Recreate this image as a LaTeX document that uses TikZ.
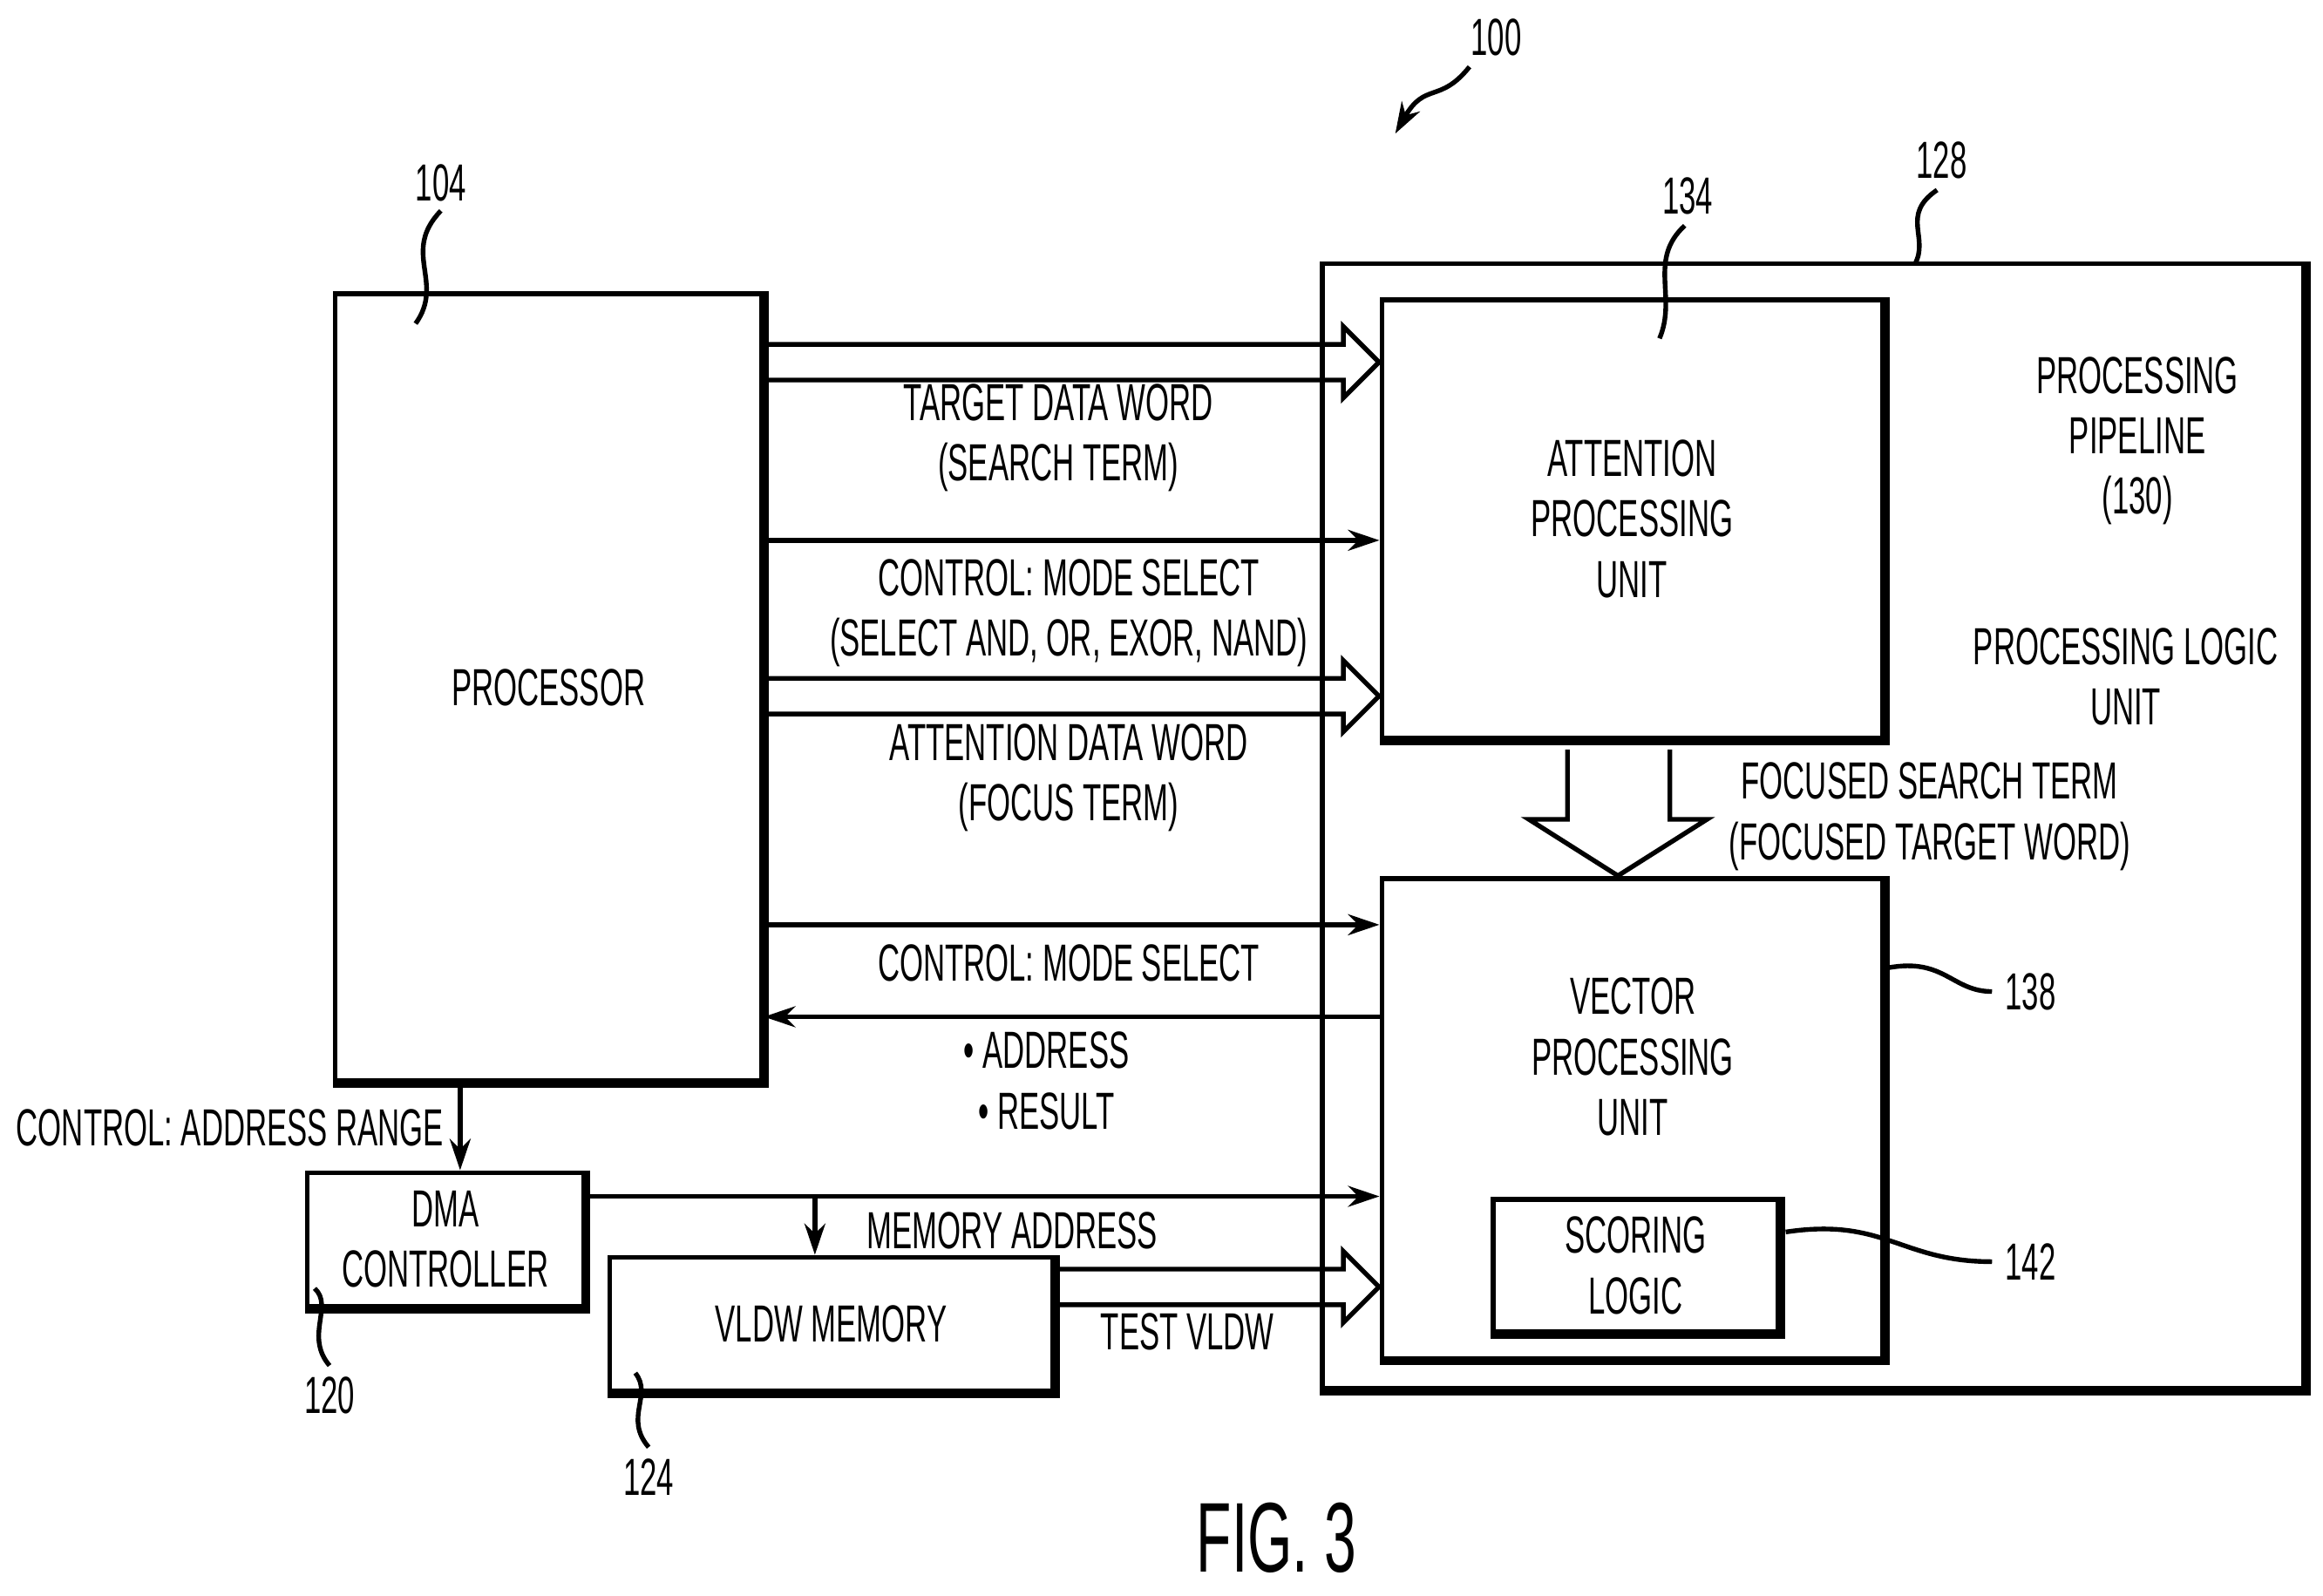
\documentclass[tikz,border=0pt]{standalone}
\usepackage{fontspec}
\setmainfont[FakeStretch=0.58]{Liberation Sans}
\usetikzlibrary{arrows.meta}
\begin{document}
\begin{tikzpicture}
  [x=0.01cm,y=-0.01cm,line width=0.9pt,>={Stealth[length=6pt,width=4pt]},
   every node/.style={font=\fontsize{10}{11.6}\selectfont,align=center},
   blk/.style={draw,rectangle,inner sep=0pt},
   shade/.style={line width=1.8pt}]
  \useasboundingbox (0,0) rectangle (1565,1075);

  % blocks
  \node[blk,minimum width=287mm/10,minimum height=530mm/10] (proc) at (369.5,463) {PROCESSOR};
  \node[blk,minimum width=661mm/10,minimum height=757mm/10] (pipe) at (1221.5,556.5) {};
  \node[blk,minimum width=337mm/10,minimum height=295mm/10] (att) at (1099.5,349.5) {ATTENTION\\PROCESSING\\UNIT};
  \node[blk,minimum width=337mm/10,minimum height=323mm/10] (vec) at (1099.5,753.5) {};
  \node (vectxt) at (1100,712) {VECTOR\\PROCESSING\\UNIT};
  \node[blk,minimum width=192mm/10,minimum height=89mm/10] (score) at (1102,852.5) {SCORING\\LOGIC};
  \node[blk,minimum width=186mm/10,minimum height=90mm/10] (dma) at (300,835) {DMA\\CONTROLLER};
  \node[blk,minimum width=298mm/10,minimum height=90mm/10] (vldw) at (560,892) {VLDW MEMORY};
  \foreach \b in {proc,pipe,att,vec,score,dma,vldw}
    \draw[shade] (\b.north east) -- (\b.south east) -- (\b.south west);

  \node (pp) at (1440,297) {PROCESSING\\PIPELINE\\(130)};
  \node (plu) at (1432,456) {PROCESSING LOGIC\\UNIT};

  % hollow arrows
  \draw (517,232) -- (905,232) -- (905,220) -- (929,244) -- (905,268) -- (905,256) -- (517,256);
  \draw (517,457) -- (905,457) -- (905,445) -- (929,469) -- (905,493) -- (905,481) -- (517,481);
  \draw (713,855) -- (905,855) -- (905,843) -- (929,867) -- (905,891) -- (905,879) -- (713,879);
  \draw (1125,505) -- (1125,552) -- (1150,552) -- (1090,590) -- (1030,552) -- (1056,552) -- (1056,505);

  % thin connectors
  \coordinate (c1) at (0,364);
  \coordinate (c2) at (0,623);
  \coordinate (c3) at (0,685);
  \coordinate (c4) at (0,806);
  \coordinate (c5) at (310,0);
  \coordinate (c6) at (549,0);
  \draw[->] (proc.east |- c1) -- (att.west |- c1);
  \draw[->] (proc.east |- c2) -- (vec.west |- c2);
  \draw[->] (vec.west |- c3) -- (proc.east |- c3);
  \draw[->] (dma.east |- c4) -- (vec.west |- c4);
  \draw[->] (c6 |- c4) -- (c6 |- vldw.north);
  \draw[->] (c5 |- proc.south) -- (c5 |- dma.north);

  % labels
  \node (l1) at (713,295) {TARGET DATA WORD\\(SEARCH TERM)};
  \node (l2) at (720,413) {CONTROL: MODE SELECT\\(SELECT AND, OR, EXOR, NAND)};
  \node (l3) at (720,524) {ATTENTION DATA WORD\\(FOCUS TERM)};
  \node (l4) at (1300,550) {FOCUSED SEARCH TERM\\(FOCUSED TARGET WORD)};
  \node (l5) at (720,649) {CONTROL: MODE SELECT};
  \node (l6) at (705,728) {\textbullet\ ADDRESS\\\textbullet\ RESULT};
  \node (l7) at (155,760) {CONTROL: ADDRESS RANGE};
  \node (l8) at (682,829) {MEMORY ADDRESS};
  \node (l9) at (800,897) {TEST VLDW};

  % reference numerals
  \node (r100) at (1008,25) {100};
  \draw[->] (990,45) .. controls (970,70) and (960,55) .. (940,90);
  \node (r104) at (297,123) {104};
  \draw (297,142) .. controls (270,170) and (300,190) .. (280,218);
  \node (r128) at (1308,108) {128};
  \draw (1305,128) .. controls (1280,145) and (1300,160) .. (1290,178);
  \node (r134) at (1137,132) {134};
  \draw (1135,152) .. controls (1110,175) and (1130,200) .. (1118,228);
  \node (r138) at (1368,668) {138};
  \draw (1272,652) .. controls (1310,645) and (1315,668) .. (1342,668);
  \node (r142) at (1368,850) {142};
  \draw (1203,830) .. controls (1270,820) and (1280,850) .. (1342,850);
  \node (r120) at (222,940) {120};
  \draw (222,920) .. controls (205,900) and (225,880) .. (212,868);
  \node (r124) at (437,995) {124};
  \draw (437,975) .. controls (420,955) and (440,940) .. (428,925);

  \node[font=\fontsize{19}{23}\selectfont] (fig) at (860,1036) {FIG. 3};
\end{tikzpicture}
\end{document}
